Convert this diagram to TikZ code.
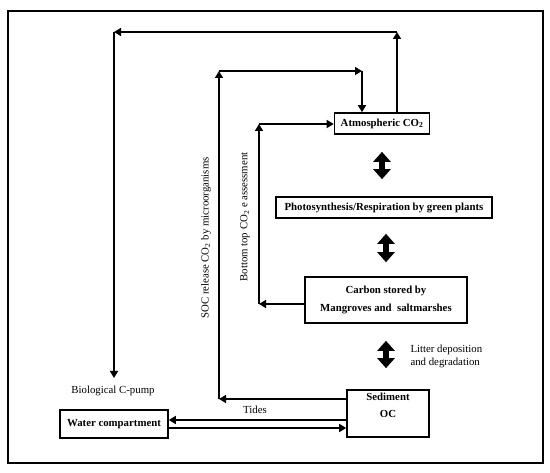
\documentclass[tikz,border=0pt]{standalone}
\usepackage{fontspec}
\setmainfont{Liberation Serif}
\usetikzlibrary{arrows.meta,positioning}

\tikzset{
    box/.style={draw,line width=1.6pt,font=\bfseries\fontsize{10.8}{13}\selectfont,inner sep=2pt},
    arr/.style={line width=1.5pt,-{Triangle[width=8pt,length=7pt]}},
    fatarr/.style={line width=6pt,{Triangle[width=17pt,length=10pt]}-{Triangle[width=17pt,length=10pt]}},
    lbl/.style={font=\fontsize{10.8}{13}\selectfont}
}

\begin{document}
\begin{tikzpicture}[x=1pt,y=-1pt]
    \useasboundingbox (0,0) rectangle (550,473);
    %% frame
    \draw[line width=1.2pt] (8,11) rectangle (543,463);
    %% compartments
    \node[box,minimum width=95pt,minimum height=21pt] (atm) at (382,123.5) {Atmospheric CO\textsubscript{2}};
    \node[box,minimum width=216pt,minimum height=21pt] (photo) at (384,207.5) {Photosynthesis/Respiration by green plants};
    \node[box,minimum width=162pt,minimum height=46pt,align=center] (carbon) at (386,300) {Carbon stored by\\[5pt]Mangroves and\ \ saltmarshes};
    \node[box,minimum width=82pt,minimum height=47pt,align=center] (sed) at (388,413.5) {Sediment\\[4pt]OC\\[4pt]};
    \node[box,minimum width=108pt,minimum height=28pt] (water) at (114,424) {Water compartment};
    %% exchanges
    \draw[fatarr,shorten <=17pt,shorten >=17pt] (atm.south) -- (atm.south |- photo.north);
    \draw[fatarr,shorten <=15pt,shorten >=14pt] (carbon.north |- photo.south) -- (carbon.north);
    \draw[fatarr,shorten <=17pt,shorten >=21pt] (carbon.south) -- (carbon.south |- sed.north);
    \node[lbl,anchor=west,align=left] (litter) at (407,356) {Litter deposition\\and degradation};
    %% biological pump
    \coordinate (o1) at (397,32);
    \coordinate (o2) at (114,32);
    \coordinate (o3) at (114,378);
    \draw[arr] (atm.north -| o1) -- (o1);
    \draw[arr] (o1) -- (o2);
    \draw[arr] (o2) -- (o3);
    \node[lbl] (pump) at (113,391) {Biological C-pump};
    %% SOC release
    \coordinate (s1) at (219,399);
    \coordinate (s2) at (219,71);
    \coordinate (s3) at (362,71);
    \draw[arr] (s1 -| sed.west) -- (s1);
    \draw[arr] (s1) -- (s2);
    \draw[arr] (s2) -- (s3);
    \draw[arr] (s3) -- (s3 |- atm.north);
    \node[lbl,rotate=90] (soc) at (206,238) {SOC release CO\textsubscript{2} by microorganisms};
    %% bottom top assessment
    \coordinate (c1) at (259,304);
    \coordinate (c2) at (259,124);
    \draw[arr] (c1 -| carbon.west) -- (c1);
    \draw[arr] (c1) -- (c2);
    \draw[arr] (c2) -- (c2 -| atm.west);
    \node[lbl,rotate=90] (btm) at (245,217) {Bottom top CO\textsubscript{2} e assessment};
    %% tides
    \coordinate (t1) at ([yshift=4pt]water.east);
    \coordinate (t2) at ([yshift=-4pt]water.east);
    \draw[arr] (t1 -| sed.west) -- (t1);
    \draw[arr] (t2) -- (t2 -| sed.west);
    \node[lbl] (tides) at (255,410) {Tides};
\end{tikzpicture}
\end{document}
